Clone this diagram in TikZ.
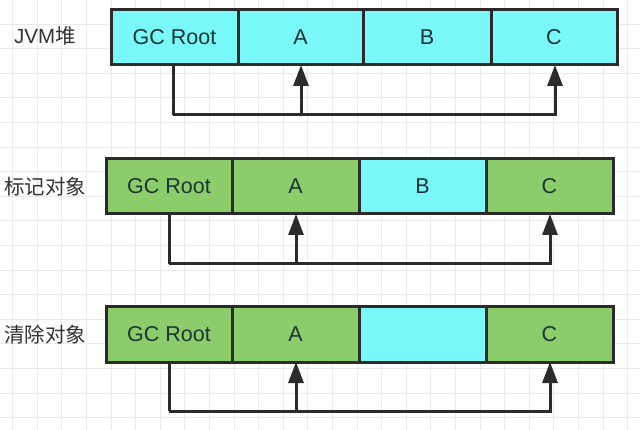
\documentclass[tikz,border=0pt]{standalone}
\usepackage{fontspec}
\setmainfont{Liberation Sans}
\newfontfamily\cjk{Noto Sans CJK SC}
\usetikzlibrary{arrows.meta}
\definecolor{cyanfill}{HTML}{78F8F8}
\definecolor{greenfill}{HTML}{8ACD6A}
\definecolor{edgecol}{HTML}{2B2B2B}
\definecolor{gridcol}{HTML}{E9E9E9}
\definecolor{txtcol}{HTML}{1F3434}
\tikzset{
  cell/.style={draw=edgecol, line width=3pt, rectangle, inner sep=0pt, outer sep=0pt,
    anchor=north west, minimum height=#1, text=txtcol, font=\fontsize{21.5}{25}\selectfont},
  cyancell/.style={cell=55pt, fill=cyanfill},
  greencell/.style={cell=55pt, fill=greenfill},
  rowlabel/.style={anchor=west, inner sep=0pt, text=black!80, font=\fontsize{20.5}{24}\selectfont},
  link/.style={draw=edgecol, line width=3pt},
  arr/.style={link, -{Triangle[length=21pt,width=15pt]}},
}
\begin{document}
\begin{tikzpicture}[x=1pt,y=-1pt]
\useasboundingbox (0,0) rectangle (640,430);
\fill[white] (0,0) rectangle (640,430);
% grid
\foreach \i in {0,...,25} {
  \draw[gridcol, line width=1pt] ({12.7+24.6*\i},0) -- ({12.7+24.6*\i},430);
}
\foreach \j in {0,...,17} {
  \draw[gridcol, line width=1pt] (0,{24.1+24.6*\j}) -- (640,{24.1+24.6*\j});
}
% row 1
\node[rowlabel] (l1) at (14,36) {JVM{\cjk 堆}};
\node[cyancell, minimum width=127pt] (g1) at (111,10) {GC Root};
\node[cyancell, minimum width=125pt] (a1) at (238,10) {A};
\node[cyancell, minimum width=128pt] (b1) at (363,10) {B};
\node[cyancell, minimum width=126pt] (c1) at (491,10) {C};
\coordinate (p1) at (173,115);
\draw[link] (g1.south west -| p1) -- (p1);
\draw[arr] (p1) -| (c1.south west -| 555,0);
\draw[arr] (301,115) -- (301,65);
% row 2
\node[rowlabel] (l2) at (4,187) {\cjk 标记对象};
\node[greencell, minimum width=126pt] (g2) at (106,159) {GC Root};
\node[greencell, minimum width=127pt] (a2) at (232,159) {A};
\node[cyancell, minimum width=127pt] (b2) at (359,159) {B};
\node[greencell, minimum width=127pt] (c2) at (486,159) {C};
\coordinate (p2) at (169,264);
\draw[link] (g2.south west -| p2) -- (p2);
\draw[arr] (p2) -| (c2.south west -| 550,0);
\draw[arr] (296,264) -- (a2.south west -| 296,0);
% row 3
\node[rowlabel] (l3) at (4,335) {\cjk 清除对象};
\node[greencell, minimum width=126pt] (g3) at (106,307) {GC Root};
\node[greencell, minimum width=127pt] (a3) at (232,307) {A};
\node[cyancell, minimum width=127pt] (b3) at (359,307) {};
\node[greencell, minimum width=127pt] (c3) at (486,307) {C};
\coordinate (p3) at (169,411);
\draw[link] (g3.south west -| p3) -- (p3);
\draw[arr] (p3) -| (c3.south west -| 550,0);
\draw[arr] (296,411) -- (a3.south west -| 296,0);
\end{tikzpicture}
\end{document}
